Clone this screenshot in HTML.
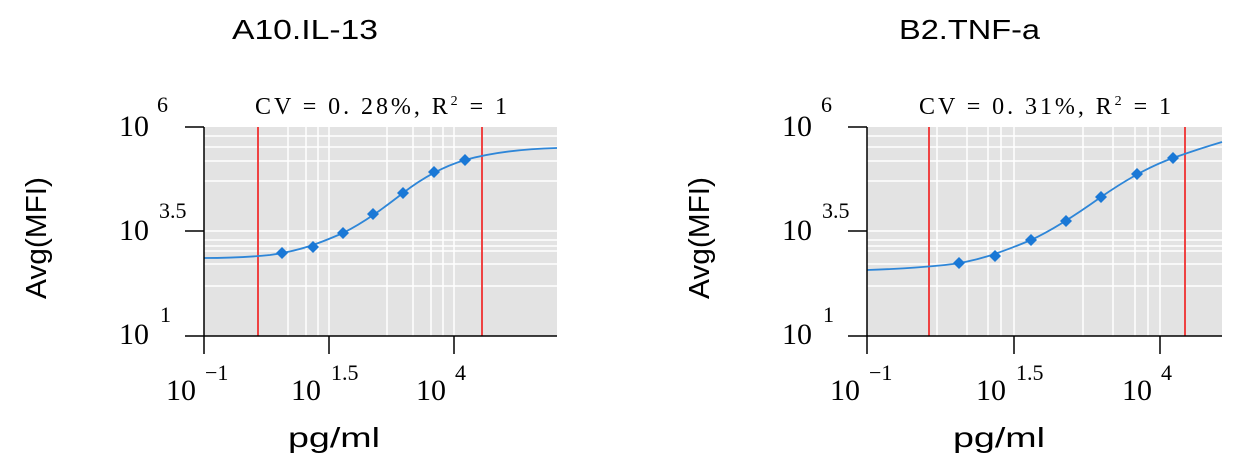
<!DOCTYPE html>
<html><head><meta charset="utf-8"><style>
html,body{margin:0;padding:0;background:#fff;width:1240px;height:472px;overflow:hidden}
svg{display:block}
.t{font-family:"Liberation Sans",sans-serif;fill:#000}
.s{font-family:"Liberation Serif","Noto Serif CJK SC",serif;fill:#000}
</style></head><body>
<svg width="1240" height="472" viewBox="0 0 1240 472" xmlns="http://www.w3.org/2000/svg">
<!-- Chart 1 -->
<g>
<text class="t" x="232" y="39" font-size="28" textLength="146" lengthAdjust="spacingAndGlyphs">A10.IL-13</text>
<text class="t" x="0" y="0" font-size="29" text-anchor="middle" textLength="122" lengthAdjust="spacingAndGlyphs" transform="translate(46,238) rotate(-90)">Avg(MFI)</text>
<text class="t" x="288" y="447" font-size="28" textLength="92" lengthAdjust="spacingAndGlyphs">pg/ml</text>
<text class="s" x="255" y="114" font-size="24" textLength="252" lengthAdjust="spacing">CV = 0. 28%, R<tspan font-size="14" dy="-9">2</tspan><tspan dy="9"> = 1</tspan></text>
<rect x="204" y="127" width="353" height="209" fill="#e3e3e3"/>
<g stroke="#fff" stroke-width="1.5">
<line x1="204" x2="557" y1="136" y2="136"/><line x1="204" x2="557" y1="147" y2="147"/><line x1="204" x2="557" y1="161" y2="161"/><line x1="204" x2="557" y1="181" y2="181"/><line x1="204" x2="557" y1="231" y2="231"/><line x1="204" x2="557" y1="240" y2="240"/><line x1="204" x2="557" y1="246" y2="246"/><line x1="204" x2="557" y1="251" y2="251"/><line x1="204" x2="557" y1="264" y2="264"/><line x1="204" x2="557" y1="286" y2="286"/>
<line y1="127" y2="336" x1="288" x2="288"/><line y1="127" y2="336" x1="306" x2="306"/><line y1="127" y2="336" x1="318" x2="318"/><line y1="127" y2="336" x1="329" x2="329"/><line y1="127" y2="336" x1="387" x2="387"/><line y1="127" y2="336" x1="413" x2="413"/><line y1="127" y2="336" x1="431" x2="431"/><line y1="127" y2="336" x1="443" x2="443"/><line y1="127" y2="336" x1="454" x2="454"/>
</g>
<line x1="258" x2="258" y1="127" y2="336" stroke="#f03030" stroke-width="1.8"/>
<line x1="482" x2="482" y1="127" y2="336" stroke="#f03030" stroke-width="1.8"/>
<path d="M204,258 C230,258 250,257 270,255 C300,251 320,243 343,233 C365,222 385,207 403,193 C425,176 445,166 465,160 C490,153 520,149 557,148" fill="none" stroke="#2e86d8" stroke-width="1.8"/>
<g fill="#1a78d6">
<path d="M282,247l6,6l-6,6l-6,-6z"/><path d="M313,241l6,6l-6,6l-6,-6z"/><path d="M343,227l6,6l-6,6l-6,-6z"/><path d="M373,208l6,6l-6,6l-6,-6z"/><path d="M403,187l6,6l-6,6l-6,-6z"/><path d="M434,166l6,6l-6,6l-6,-6z"/><path d="M465,154l6,6l-6,6l-6,-6z"/>
</g>
<g stroke="#000" stroke-width="1.5">
<line x1="204" x2="204" y1="127" y2="354"/><line x1="185" x2="557" y1="336" y2="336"/>
<line x1="185" x2="204" y1="127" y2="127"/><line x1="185" x2="204" y1="231" y2="231"/>
<line x1="329" x2="329" y1="336" y2="354"/><line x1="454" x2="454" y1="336" y2="354"/>
</g>
<g class="s" font-size="30">
<text x="119" y="136">10</text><text x="157" y="112" font-size="22">6</text>
<text x="119" y="240">10</text><text x="159" y="218" font-size="22">3.5</text>
<text x="119" y="344">10</text><text x="160" y="322" font-size="22">1</text>
<text x="166" y="400">10</text><text x="205" y="380" font-size="22">−1</text>
<text x="291" y="400">10</text><text x="331" y="380" font-size="22">1.5</text>
<text x="416" y="400">10</text><text x="455" y="380" font-size="22">4</text>
</g>
</g>
<!-- Chart 2 -->
<g>
<text class="t" x="899" y="39" font-size="28" textLength="141" lengthAdjust="spacingAndGlyphs">B2.TNF-a</text>
<text class="t" x="0" y="0" font-size="29" text-anchor="middle" textLength="122" lengthAdjust="spacingAndGlyphs" transform="translate(709,238) rotate(-90)">Avg(MFI)</text>
<text class="t" x="953" y="447" font-size="28" textLength="92" lengthAdjust="spacingAndGlyphs">pg/ml</text>
<text class="s" x="919" y="114" font-size="24" textLength="252" lengthAdjust="spacing">CV = 0. 31%, R<tspan font-size="14" dy="-9">2</tspan><tspan dy="9"> = 1</tspan></text>
<rect x="867" y="127" width="355" height="209" fill="#e3e3e3"/>
<g stroke="#fff" stroke-width="1.5">
<line x1="867" x2="1222" y1="136" y2="136"/><line x1="867" x2="1222" y1="147" y2="147"/><line x1="867" x2="1222" y1="161" y2="161"/><line x1="867" x2="1222" y1="181" y2="181"/><line x1="867" x2="1222" y1="231" y2="231"/><line x1="867" x2="1222" y1="240" y2="240"/><line x1="867" x2="1222" y1="246" y2="246"/><line x1="867" x2="1222" y1="251" y2="251"/><line x1="867" x2="1222" y1="264" y2="264"/><line x1="867" x2="1222" y1="286" y2="286"/>
<line y1="127" y2="336" x1="937" x2="937"/><line y1="127" y2="336" x1="967" x2="967"/><line y1="127" y2="336" x1="988" x2="988"/><line y1="127" y2="336" x1="1001" x2="1001"/><line y1="127" y2="336" x1="1014" x2="1014"/><line y1="127" y2="336" x1="1083" x2="1083"/><line y1="127" y2="336" x1="1113" x2="1113"/><line y1="127" y2="336" x1="1135" x2="1135"/><line y1="127" y2="336" x1="1148" x2="1148"/><line y1="127" y2="336" x1="1160" x2="1160"/>
</g>
<line x1="929" x2="929" y1="127" y2="336" stroke="#f03030" stroke-width="1.8"/>
<line x1="1185" x2="1185" y1="127" y2="336" stroke="#f03030" stroke-width="1.8"/>
<path d="M867,270 C900,269 925,267 945,265 C975,262 1000,253 1031,240 C1055,229 1080,212 1101,197 C1120,184 1145,168 1173,158 C1190,152 1205,147 1222,142" fill="none" stroke="#2e86d8" stroke-width="1.8"/>
<g fill="#1a78d6">
<path d="M959,257l6,6l-6,6l-6,-6z"/><path d="M995,250l6,6l-6,6l-6,-6z"/><path d="M1031,234l6,6l-6,6l-6,-6z"/><path d="M1066,215l6,6l-6,6l-6,-6z"/><path d="M1101,191l6,6l-6,6l-6,-6z"/><path d="M1137,168l6,6l-6,6l-6,-6z"/><path d="M1173,152l6,6l-6,6l-6,-6z"/>
</g>
<g stroke="#000" stroke-width="1.5">
<line x1="867" x2="867" y1="127" y2="354"/><line x1="848" x2="1222" y1="336" y2="336"/>
<line x1="848" x2="867" y1="127" y2="127"/><line x1="848" x2="867" y1="231" y2="231"/>
<line x1="1014" x2="1014" y1="336" y2="354"/><line x1="1160" x2="1160" y1="336" y2="354"/>
</g>
<g class="s" font-size="30">
<text x="782" y="136">10</text><text x="821" y="112" font-size="22">6</text>
<text x="782" y="240">10</text><text x="822" y="218" font-size="22">3.5</text>
<text x="782" y="344">10</text><text x="823" y="322" font-size="22">1</text>
<text x="830" y="400">10</text><text x="869" y="380" font-size="22">−1</text>
<text x="976" y="400">10</text><text x="1016" y="380" font-size="22">1.5</text>
<text x="1122" y="400">10</text><text x="1161" y="380" font-size="22">4</text>
</g>
</g>
</svg>
</body></html>
